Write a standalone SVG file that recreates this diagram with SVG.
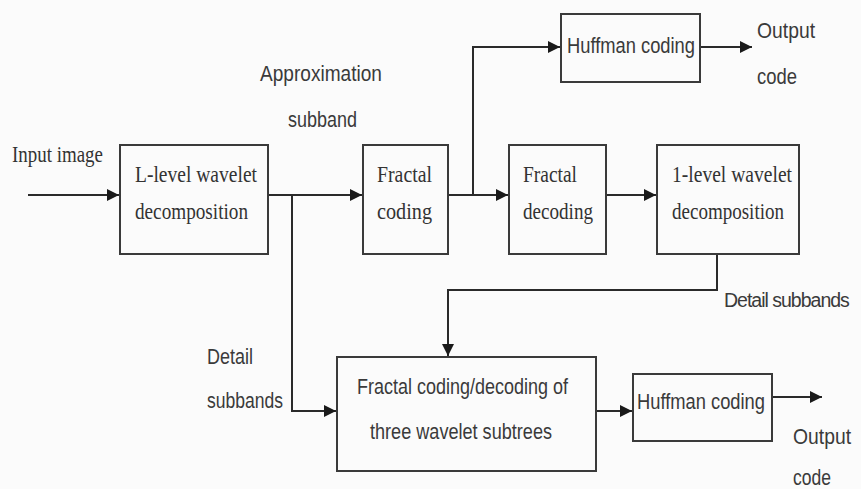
<svg xmlns="http://www.w3.org/2000/svg" width="861" height="489" viewBox="0 0 861 489">
<style>
.box{fill:none;stroke:#3a3a3a;stroke-width:2}
.ln{fill:none;stroke:#2a2a2a;stroke-width:2}
.serif{font-family:"Liberation Serif","Times New Roman",serif;font-size:24px;fill:#333}
.sans{font-family:"Liberation Sans",Arial,sans-serif;font-size:22px;fill:#3a3a3a}
</style>
<defs>
<marker id="arr" markerUnits="userSpaceOnUse" markerWidth="14" markerHeight="14" refX="12" refY="6" orient="auto">
<path d="M0,0 L12,6 L0,12 Z" fill="#1a1a1a"/>
</marker>
</defs>
<rect width="861" height="489" fill="#fbfbfb"/>
<g id="connectors">
<path class="ln" d="M28,195 H119" marker-end="url(#arr)"/>
<path class="ln" d="M268,195 H362" marker-end="url(#arr)"/>
<path class="ln" d="M292,195 V411 H336" marker-end="url(#arr)"/>
<path class="ln" d="M448,195 H508" marker-end="url(#arr)"/>
<path class="ln" d="M473,195 V47 H560" marker-end="url(#arr)"/>
<path class="ln" d="M700,47 H752" marker-end="url(#arr)"/>
<path class="ln" d="M606,195 H656" marker-end="url(#arr)"/>
<path class="ln" d="M717,254 V290 H448 V356" marker-end="url(#arr)"/>
<path class="ln" d="M596,411 H632" marker-end="url(#arr)"/>
<path class="ln" d="M772,397 H822" marker-end="url(#arr)"/>
</g>
<g id="labels">
<text class="serif" x="12" y="162" textLength="91" lengthAdjust="spacingAndGlyphs">Input image</text>
<text class="sans" x="260" y="81" textLength="122" lengthAdjust="spacingAndGlyphs">Approximation</text>
<text class="sans" x="288" y="127" textLength="69" lengthAdjust="spacingAndGlyphs">subband</text>
<text class="sans" x="757" y="38" textLength="58" lengthAdjust="spacingAndGlyphs">Output</text>
<text class="sans" x="757" y="84" textLength="40" lengthAdjust="spacingAndGlyphs">code</text>
<text class="sans" x="724" y="307" style="font-size:19.5px;letter-spacing:-1px">Detail subbands</text>
<text class="sans" x="207" y="364" textLength="46" lengthAdjust="spacingAndGlyphs">Detail</text>
<text class="sans" x="207" y="408" textLength="76" lengthAdjust="spacingAndGlyphs">subbands</text>
<text class="sans" x="793" y="444" textLength="58" lengthAdjust="spacingAndGlyphs">Output</text>
<text class="sans" x="793" y="485" textLength="38" lengthAdjust="spacingAndGlyphs">code</text>
</g>
<g id="lwavelet">
<rect class="box" x="120" y="145" width="148" height="109"/>
<text class="serif" x="135" y="182" textLength="122" lengthAdjust="spacingAndGlyphs">L-level wavelet</text>
<text class="serif" x="135" y="219" textLength="113" lengthAdjust="spacingAndGlyphs">decomposition</text>
</g>
<g id="fractalcoding">
<rect class="box" x="363" y="145" width="85" height="109"/>
<text class="serif" x="377" y="182" textLength="55" lengthAdjust="spacingAndGlyphs">Fractal</text>
<text class="serif" x="377" y="219" textLength="55" lengthAdjust="spacingAndGlyphs">coding</text>
</g>
<g id="fractaldecoding">
<rect class="box" x="509" y="145" width="97" height="109"/>
<text class="serif" x="523" y="182" textLength="54" lengthAdjust="spacingAndGlyphs">Fractal</text>
<text class="serif" x="523" y="219" textLength="70" lengthAdjust="spacingAndGlyphs">decoding</text>
</g>
<g id="onelevel">
<rect class="box" x="657" y="145" width="142" height="109"/>
<text class="serif" x="672" y="182" textLength="120" lengthAdjust="spacingAndGlyphs">1-level wavelet</text>
<text class="serif" x="672" y="219" textLength="112" lengthAdjust="spacingAndGlyphs">decomposition</text>
</g>
<g id="huffmantop">
<rect class="box" x="561" y="14" width="139" height="68"/>
<text class="sans" x="567" y="53" textLength="128" lengthAdjust="spacingAndGlyphs">Huffman coding</text>
</g>
<g id="subtrees">
<rect class="box" x="337" y="357" width="259" height="114"/>
<text class="sans" x="357" y="394" textLength="211" lengthAdjust="spacingAndGlyphs">Fractal coding/decoding of</text>
<text class="sans" x="370" y="439" textLength="182" lengthAdjust="spacingAndGlyphs">three wavelet subtrees</text>
</g>
<g id="huffmanbottom">
<rect class="box" x="633" y="374" width="139" height="67"/>
<text class="sans" x="637" y="409" textLength="128" lengthAdjust="spacingAndGlyphs">Huffman coding</text>
</g>
</svg>
